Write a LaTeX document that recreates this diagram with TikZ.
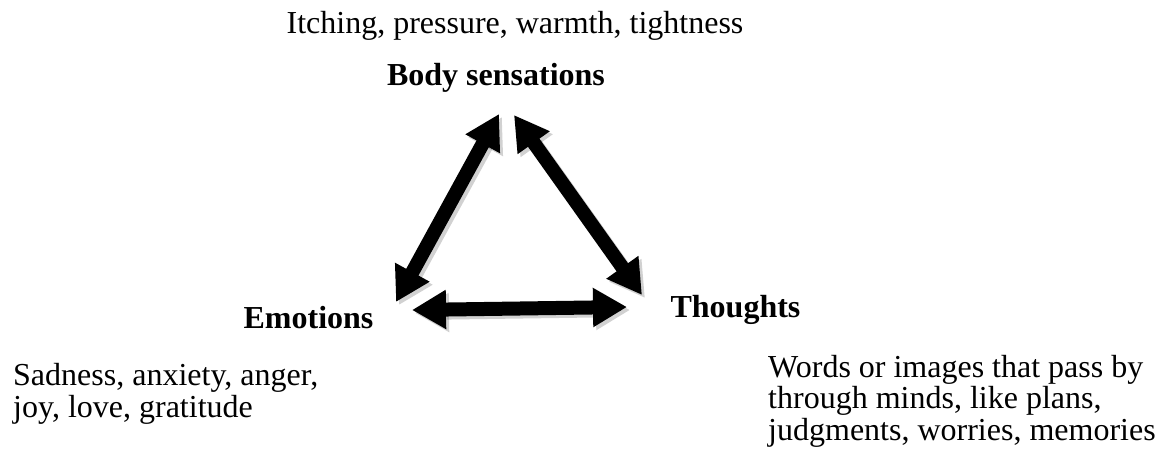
\documentclass[tikz,border=0pt]{standalone}
\usepackage{fontspec}
\setmainfont{Liberation Serif}
\usetikzlibrary{arrows.meta}
\begin{document}
\begin{tikzpicture}[x=1pt,y=-1pt,
  lbl/.style={font=\fontsize{32}{32}\selectfont\bfseries, inner sep=0pt},
  desc/.style={font=\fontsize{32}{31.5}\selectfont, inner sep=0pt, align=left},
  tips/.style={{Triangle[length=34pt,width=37pt]}-{Triangle[length=34pt,width=37pt]}},
  bigarrow/.style={line width=14pt, tips, black},
  shadowarrow/.style={line width=14pt, tips, black, opacity=0.18}
]
\useasboundingbox (0,0) rectangle (1167,456);
\node[desc, anchor=base] (itch) at (515,33) {Itching, pressure, warmth, tightness};
\node[lbl, anchor=base] (body) at (496,85) {Body sensations};
\node[lbl, anchor=base] (emo) at (308.5,328) {Emotions};
\node[lbl, anchor=base] (thou) at (735.5,317) {Thoughts};
\node[desc, anchor=base west] (sad) at (13,417) {Sadness, anxiety, anger,\\joy, love, gratitude};
\node[desc, anchor=base west] (words) at (768,440) {Words or images that pass by\\through minds, like plans,\\judgments, worries, memories};
\coordinate (lt) at (499,114);
\coordinate (lb) at (396,302);
\coordinate (rt) at (514,115);
\coordinate (rb) at (642,295);
\coordinate (hl) at (412,310);
\coordinate (hr) at (627,307);
\draw[shadowarrow] ([shift={(3,3)}]lt) -- ([shift={(3,3)}]lb);
\draw[shadowarrow] ([shift={(3,3)}]rt) -- ([shift={(3,3)}]rb);
\draw[shadowarrow] ([shift={(3,3)}]hl) -- ([shift={(3,3)}]hr);
\draw[bigarrow] (lt) -- (lb);
\draw[bigarrow] (rt) -- (rb);
\draw[bigarrow] (hl) -- (hr);
\end{tikzpicture}
\end{document}
